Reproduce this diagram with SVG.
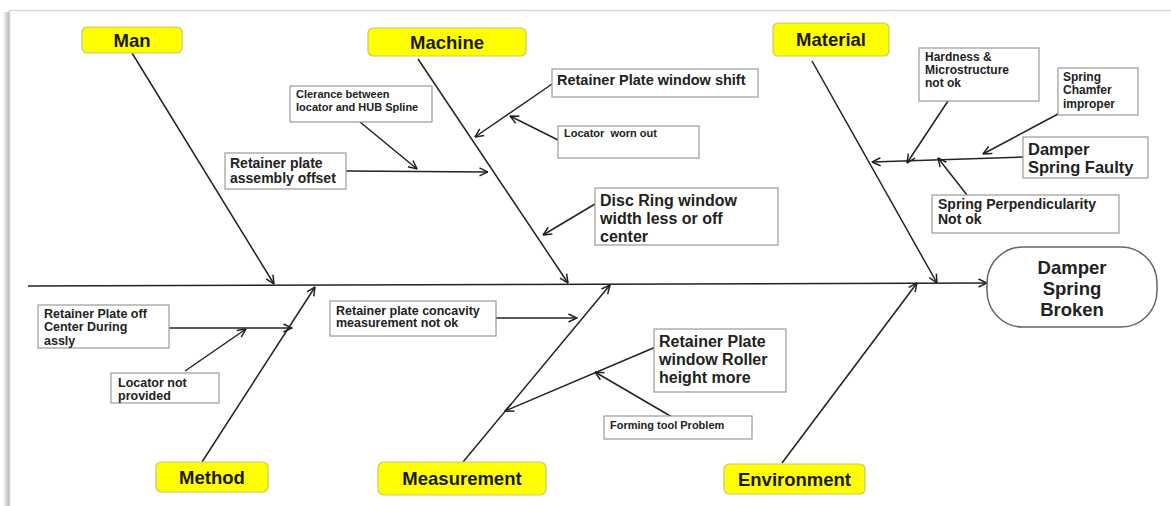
<svg xmlns="http://www.w3.org/2000/svg" width="1171" height="506" viewBox="0 0 1171 506">
<defs>
<linearGradient id="sh" x1="0" y1="0" x2="1" y2="0">
<stop offset="0" stop-color="#ffffff"/>
<stop offset="1" stop-color="#b8b8b8"/>
</linearGradient>
<marker id="ah" viewBox="0 0 10 10" refX="9.5" refY="5" markerWidth="10" markerHeight="10" orient="auto" markerUnits="userSpaceOnUse">
<path d="M1,1 L9.5,5 L1,9" fill="none" stroke="#222" stroke-width="1.5"/>
</marker>
</defs>
<style>
.cat rect{fill:#ffff00;stroke:#c8c86a;stroke-width:1.2}
.cat text{font-family:"Liberation Sans",Arial,sans-serif;font-weight:bold;font-size:18.5px;fill:#1a1a1a;text-anchor:middle}
.box rect{fill:#fff;stroke:#9a9a9a;stroke-width:1.2}
.box text{font-family:"Liberation Sans",Arial,sans-serif;font-weight:bold;fill:#222}
.eff rect{fill:#fff;stroke:#666;stroke-width:1.5}
.eff text{font-family:"Liberation Sans",Arial,sans-serif;font-weight:bold;font-size:18.5px;fill:#222;text-anchor:middle}
.c line,.c path{stroke:#222;stroke-width:1.5;fill:none}
.a{marker-end:url(#ah)}
</style>
<rect width="1171" height="506" fill="#fff"/>
<g id="frame">
<rect x="3" y="12" width="6" height="494" fill="url(#sh)"/>
<line x1="9" y1="10.5" x2="1171" y2="10.5" stroke="#d8d8d8" stroke-width="1.5"/>
<line x1="9.5" y1="10" x2="9.5" y2="506" stroke="#cfcfcf" stroke-width="1.5"/>
</g>
<g id="connectors" class="c">
<line class="a" x1="28" y1="286" x2="987" y2="283"/>
<line class="a" x1="132" y1="53" x2="274" y2="284"/>
<line class="a" x1="418" y1="59" x2="568" y2="283"/>
<line class="a" x1="812" y1="61" x2="937" y2="283"/>
<line class="a" x1="202" y1="462" x2="315" y2="287"/>
<line class="a" x1="463" y1="462" x2="610" y2="285"/>
<line class="a" x1="782" y1="463" x2="917" y2="283"/>
<line class="a" x1="360" y1="122" x2="417" y2="169"/>
<line class="a" x1="346" y1="171" x2="488" y2="172"/>
<line class="a" x1="552" y1="84" x2="475" y2="137"/>
<line class="a" x1="558" y1="140" x2="510" y2="116"/>
<line class="a" x1="595" y1="204" x2="543" y2="235"/>
<line class="a" x1="948" y1="101" x2="907" y2="163"/>
<line class="a" x1="1058" y1="114" x2="983" y2="154"/>
<line class="a" x1="1023" y1="157" x2="872" y2="162"/>
<line class="a" x1="967" y1="195" x2="938" y2="158"/>
<line class="a" x1="169" y1="328" x2="292" y2="328"/>
<line class="a" x1="185" y1="371" x2="246" y2="329"/>
<line class="a" x1="496" y1="318" x2="577" y2="318"/>
<line class="a" x1="658" y1="346" x2="505" y2="411"/>
<line class="a" x1="672" y1="417" x2="595" y2="372"/>
</g>
<g id="man" class="cat"><rect x="82" y="27" width="100" height="26" rx="5"/><text x="132" y="46.5">Man</text></g>
<g id="machine" class="cat"><rect x="368" y="28" width="158" height="28" rx="5"/><text x="447" y="48.5">Machine</text></g>
<g id="material" class="cat"><rect x="773" y="23" width="116" height="33" rx="5"/><text x="831" y="46">Material</text></g>
<g id="method" class="cat"><rect x="156" y="462" width="112" height="30" rx="5"/><text x="212" y="483.5">Method</text></g>
<g id="measurement" class="cat"><rect x="378" y="462" width="168" height="33" rx="6"/><text x="462" y="485">Measurement</text></g>
<g id="environment" class="cat"><rect x="724" y="464" width="141" height="30" rx="5"/><text x="794.5" y="485.5">Environment</text></g>
<g id="effect" class="eff"><rect x="987" y="247" width="170" height="80" rx="36"/>
<text x="1072" y="273.5">Damper</text><text x="1072" y="295">Spring</text><text x="1072" y="315.5">Broken</text></g>
<g id="clerance" class="box"><rect x="290" y="86" width="142" height="36"/>
<text x="296" y="98" font-size="11">Clerance between</text><text x="296" y="111" font-size="11">locator and HUB Spline</text></g>
<g id="assembly-offset" class="box"><rect x="225" y="153" width="121" height="36"/>
<text x="230" y="168" font-size="14">Retainer plate</text><text x="230" y="183" font-size="14">assembly offset</text></g>
<g id="window-shift" class="box"><rect x="552" y="69" width="206" height="28"/>
<text x="557" y="85" font-size="14.5">Retainer Plate window shift</text></g>
<g id="locator-worn" class="box"><rect x="558" y="126" width="141" height="32"/>
<text x="564" y="137" font-size="11" xml:space="preserve">Locator  worn out</text></g>
<g id="disc-ring" class="box"><rect x="595" y="188" width="183" height="57"/>
<text x="600" y="205.5" font-size="16">Disc Ring window</text><text x="600" y="223.5" font-size="16">width less or off</text><text x="600" y="242" font-size="16">center</text></g>
<g id="hardness" class="box"><rect x="919" y="48" width="120" height="53"/>
<text x="925" y="61" font-size="12">Hardness &amp;</text><text x="925" y="74" font-size="12">Microstructure</text><text x="925" y="87" font-size="12">not ok</text></g>
<g id="chamfer" class="box"><rect x="1058" y="68" width="80" height="47"/>
<text x="1063" y="81" font-size="12">Spring</text><text x="1063" y="94" font-size="12">Chamfer</text><text x="1063" y="108" font-size="12">improper</text></g>
<g id="spring-faulty" class="box"><rect x="1023" y="137" width="125" height="41"/>
<text x="1028" y="155" font-size="16.5">Damper</text><text x="1028" y="173" font-size="16.5">Spring Faulty</text></g>
<g id="perpendicularity" class="box"><rect x="932" y="195" width="187" height="38"/>
<text x="938" y="209" font-size="14">Spring Perpendicularity</text><text x="938" y="224" font-size="14">Not ok</text></g>
<g id="off-center" class="box"><rect x="38" y="305" width="131" height="43"/>
<text x="44" y="318" font-size="12.5">Retainer Plate off</text><text x="44" y="331" font-size="12.5">Center During</text><text x="44" y="345" font-size="12.5">assly</text></g>
<g id="locator-not" class="box"><rect x="111" y="373" width="108" height="30"/>
<text x="118" y="387" font-size="12.5">Locator not</text><text x="118" y="400" font-size="12.5">provided</text></g>
<g id="concavity" class="box"><rect x="330" y="301" width="166" height="35"/>
<text x="336" y="315" font-size="12.5">Retainer plate concavity</text><text x="336" y="327" font-size="12.5">measurement not ok</text></g>
<g id="roller-height" class="box"><rect x="654" y="329" width="132" height="63"/>
<text x="659" y="346.5" font-size="16">Retainer Plate</text><text x="659" y="364.5" font-size="16">window Roller</text><text x="659" y="382.5" font-size="16">height more</text></g>
<g id="forming-tool" class="box"><rect x="604" y="416" width="148" height="23"/>
<text x="610" y="429" font-size="11">Forming tool Problem</text></g>
</svg>
